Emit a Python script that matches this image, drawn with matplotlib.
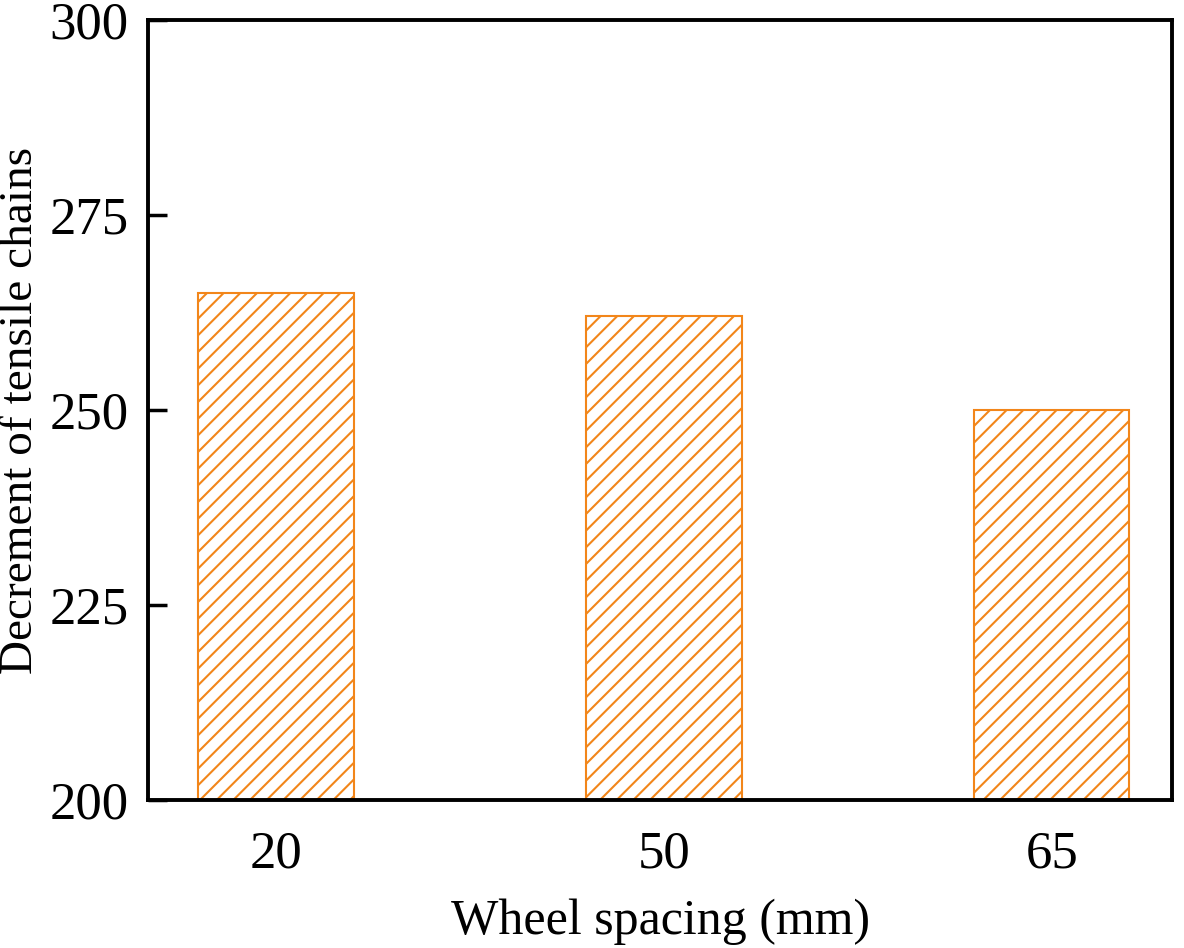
import matplotlib
matplotlib.use('Agg')
import matplotlib.pyplot as plt
import numpy as np

# data
spacing = ['20', '50', '65']
decrement = [265, 262, 250]

plt.rcParams['font.family'] = ['Liberation Serif', 'DejaVu Serif']
plt.rcParams['hatch.linewidth'] = 1.5
plt.rcParams['hatch.color'] = '#F2861A'

fig = plt.figure(figsize=(11.84, 9.48), dpi=100)
ax = fig.add_axes([0.125, 0.156, 0.865, 0.823])

x = np.arange(len(spacing))
ax.bar(x, np.array(decrement) - 200, bottom=200, width=0.4,
       facecolor='white', edgecolor='#F2861A', hatch='//', linewidth=1.5)

ax.set_xlim(-0.33, 2.31)
ax.set_ylim(200, 300)
ax.set_xticks(x)
ax.set_xticklabels(spacing)
ax.set_yticks([200, 225, 250, 275, 300])
ax.tick_params(axis='x', length=0, labelsize=38, pad=22)
ax.tick_params(axis='y', direction='in', length=14, width=2.5, labelsize=38, pad=14)
for s in ax.spines.values():
    s.set_linewidth(2.8)

ax.set_xlabel('Wheel spacing (mm)', fontsize=36, labelpad=14)
ax.set_ylabel('Decrement of tensile chains', fontsize=34, labelpad=5)

fig.savefig('out.png', dpi=100)
